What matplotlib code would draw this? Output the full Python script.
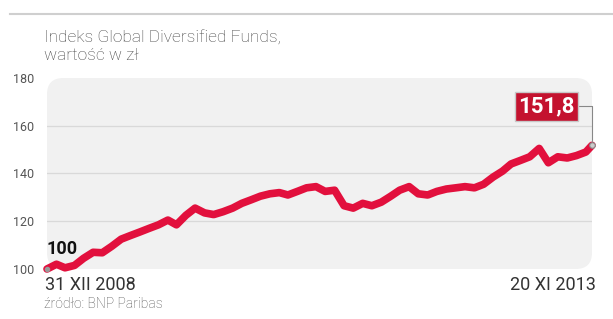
import pandas as pd
import numpy as np
import matplotlib
matplotlib.use('Agg')
import matplotlib.pyplot as plt
from matplotlib.patches import FancyBboxPatch

plt.rcParams['font.family'] = ['Roboto', 'DejaVu Sans']

# monthly readings of the index, 31 XII 2008 .. 20 XI 2013
values = [100.0, 102.0, 100.5, 101.5, 104.5, 107.0, 106.8, 109.5, 112.5, 114.0,
          115.5, 117.0, 118.5, 120.5, 118.5, 122.5, 125.5, 123.5, 122.8, 124.0,
          125.5, 127.5, 129.0, 130.5, 131.5, 132.0, 131.0, 132.5, 134.0, 134.5,
          132.5, 133.0, 126.5, 125.5, 127.5, 126.5, 128.0, 130.5, 133.0, 134.5,
          131.5, 131.0, 132.5, 133.5, 134.0, 134.5, 134.0, 135.5, 138.5, 141.0,
          144.0, 145.5, 147.0, 150.5, 144.5, 147.0, 146.5, 147.5, 149.0, 151.8]
dates = list(pd.date_range('2008-12-31', periods=59, freq='ME')) + [pd.Timestamp('2013-11-20')]
yticks = [100, 120, 140, 160, 180]
title = 'Indeks Global Diversified Funds,\nwartość w zł'
start_label = '31 XII 2008'
end_label = '20 XI 2013'
source = 'źródło: BNP Paribas'

W, H = 613, 319
fig = plt.figure(figsize=(W / 100, H / 100), dpi=100)
fig.patch.set_facecolor('white')

# axes placed in pixel terms
x0, x1, ytop, ybot = 47, 592, 78, 269
ax = fig.add_axes([x0 / W, (H - ybot) / H, (x1 - x0) / W, (ybot - ytop) / H])
ax.patch.set_visible(False)
ax.set_xlim(dates[0], dates[-1])
ax.set_ylim(100, 180)

bg = FancyBboxPatch((0, 0), 1, 1, boxstyle='round,pad=0,rounding_size=0.03',
                    transform=ax.transAxes, fc='#f1f1f1', ec='none',
                    mutation_aspect=(x1 - x0) / (ybot - ytop), zorder=0)
ax.add_patch(bg)

for v in yticks[1:-1]:
    ax.axhline(v, color='#d9d9d9', lw=0.9, zorder=1)

ax.plot(dates, values, color='#e2103d', lw=5.5, solid_capstyle='round',
        solid_joinstyle='round', zorder=3, clip_on=False)
ax.plot(dates[0], values[0], 'o', ms=3, color='#999999', zorder=4, clip_on=False)
ax.plot(dates[-1], values[-1], 'o', ms=4, mfc='#cccccc', mec='#888888', mew=0.8,
        zorder=4, clip_on=False)

ax.annotate('151,8', xy=(dates[-1], values[-1]), xytext=(-33, 28),
            textcoords='offset points', ha='center', va='center',
            fontsize=16, fontweight='bold', color='white',
            bbox=dict(boxstyle='square,pad=0.15', fc='#c4122f', ec='#c8c8c8', lw=1),
            arrowprops=dict(arrowstyle='-', color='#888888', lw=0.8,
                            connectionstyle='angle,angleA=0,angleB=90,rad=0',
                            shrinkA=0, shrinkB=3),
            zorder=5)
ax.text(dates[0], 104.5, '100', fontsize=13, fontweight='bold', color='#111111',
        ha='left', va='bottom')

ax.set_yticks(yticks)
ax.set_xticks([])
ax.tick_params(axis='y', length=0, pad=9, labelsize=9, labelcolor='#555555')
for s in ax.spines.values():
    s.set_visible(False)

fig.add_artist(plt.Line2D([10 / W, 1], [1 - 14 / H] * 2, color='#cfcfcf', lw=1.5))
fig.text(44 / W, 1 - 31 / H, title, fontsize=12.5, fontweight='light',
         color='#444444', va='top', ha='left', linespacing=1.15)
fig.text(45 / W, 1 - 285 / H, start_label, fontsize=13, color='#333333',
         va='center', ha='left')
fig.text(596 / W, 1 - 285 / H, end_label, fontsize=13, color='#333333',
         va='center', ha='right')
fig.text(44 / W, 1 - 304 / H, source, fontsize=10, fontweight='light',
         color='#555555', va='center', ha='left')

fig.savefig('out.png', dpi=100)
